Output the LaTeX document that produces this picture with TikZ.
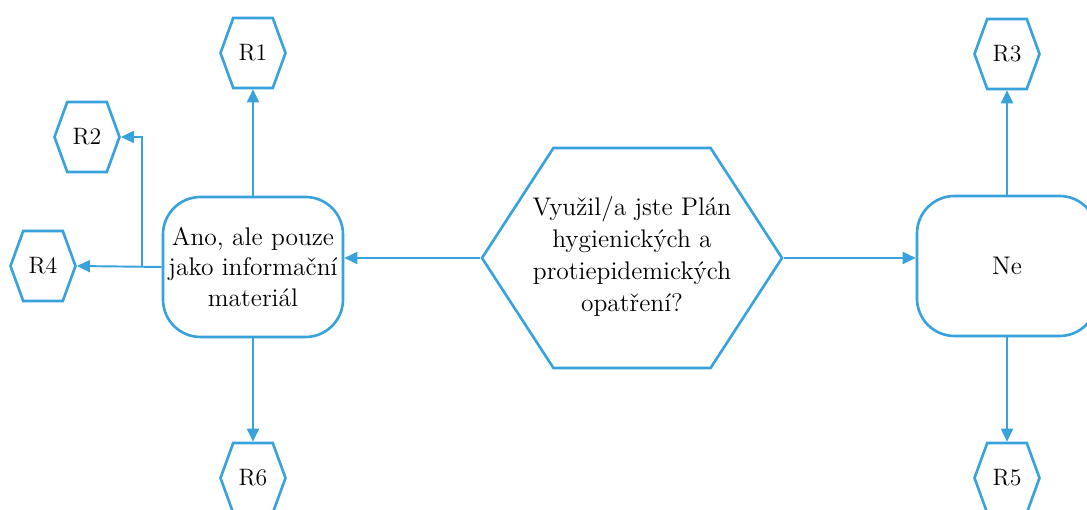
\documentclass[tikz,border=0pt]{standalone}
\usepackage{tikz}
\usetikzlibrary{calc, positioning, arrows.meta, shapes.symbols}
\definecolor{lblue}{RGB}{56,162,220}
\tikzstyle{res}=[draw=lblue, line width=1.5pt, shape=signal, signal to=east and west, signal pointer angle=140, minimum width=1.3cm, minimum height=1.4cm, inner sep=0pt, font=\fontsize{13.5}{15}\selectfont]
\tikzstyle{quest}=[draw=lblue, line width=1.5pt, shape=signal, signal to=east and west, signal pointer angle=114, minimum width=6cm, minimum height=4.4cm, inner sep=0pt]
\tikzstyle{qtext}=[align=center, inner sep=0pt, font=\fontsize{14.5}{15.6}\selectfont]
\tikzstyle{ans}=[draw=lblue, line width=1.5pt, shape=rectangle, rounded corners=0.75cm, minimum width=3.6cm, minimum height=2.8cm, inner sep=0pt, align=center, font=\fontsize{14.5}{15.6}\selectfont]
\tikzstyle{arr}=[draw=lblue, line width=1.1pt, -{Triangle[length=0.26cm, width=0.24cm]}]

\begin{document}
\begin{tikzpicture}
\useasboundingbox (0,0) rectangle (21.74,10.2);
\node[quest, label={[qtext, yshift=1pt]center:{Využil/a jste Plán\\[2.5pt]hygienických a\\[2.5pt]protiepidemických\\[2.5pt]opatření?}}] (Q) at (12.64, 5.04) {};
\node[ans] (Ano) at (5.06, 4.86) {Ano, ale pouze\\[1.5pt]jako informační\\[1.5pt]materiál};
\node[ans] (Ne) at (20.14, 4.88) {Ne};
\node[res] (R1) at (5.06, 9.14) {R1};
\node[res] (R2) at (1.74, 7.46) {R2};
\node[res] (R4) at (0.86, 4.88) {R4};
\node[res] (R6) at (5.06, 0.64) {R6};
\node[res] (R3) at (20.14, 9.12) {R3};
\node[res] (R5) at (20.14, 0.64) {R5};
\coordinate (Br) at ([xshift=-0.4cm]Ano.west);

\draw[arr] (Q.west) -- (Q.west -| Ano.east);
\draw[arr] (Q.east) -- (Q.east -| Ne.west);
\draw[arr] (Ano.north) -- (R1.south);
\draw[arr] (Ano.south) -- (R6.north);
\draw[arr] (Ano.west) -- (R4.east);
\draw[arr] (Br) |- (R2.east);
\draw[arr] (Ne.north) -- (R3.south);
\draw[arr] (Ne.south) -- (R5.north);
\end{tikzpicture}
\end{document}
